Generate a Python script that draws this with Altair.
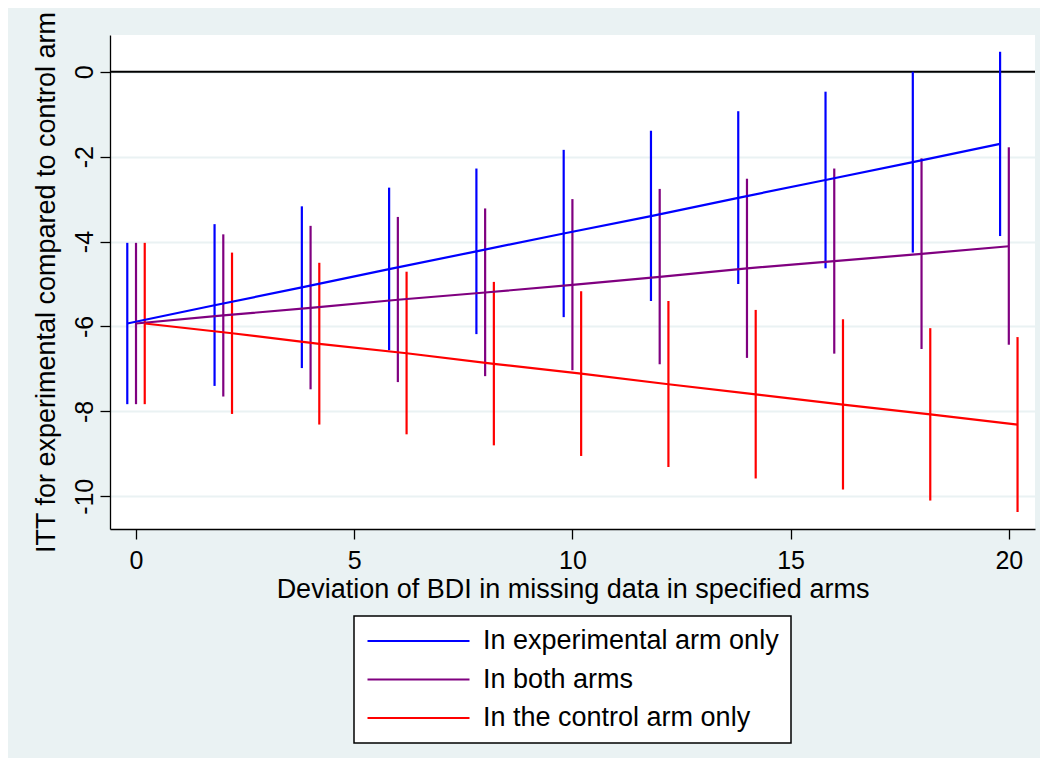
import altair as alt
import pandas as pd

deviation = [0, 2, 4, 6, 8, 10, 12, 14, 16, 18, 20]
groups = ["In experimental arm only", "In both arms", "In the control arm only"]
offsets = [-0.2, 0.0, 0.2]
colors = ["#0000FF", "#800080", "#FF0000"]

exp_est = [-5.93, -5.50, -5.08, -4.65, -4.23, -3.81, -3.40, -2.97, -2.55, -2.13, -1.70]
exp_lo = [-7.83, -7.40, -6.98, -6.56, -6.18, -5.78, -5.40, -5.00, -4.63, -4.26, -3.87]
exp_hi = [-4.03, -3.59, -3.17, -2.73, -2.28, -1.84, -1.39, -0.93, -0.47, 0.00, 0.47]

both_est = [-5.93, -5.74, -5.56, -5.37, -5.20, -5.02, -4.83, -4.63, -4.46, -4.29, -4.11]
both_lo = [-7.83, -7.65, -7.48, -7.31, -7.17, -7.03, -6.89, -6.74, -6.64, -6.53, -6.43]
both_hi = [-4.03, -3.83, -3.63, -3.42, -3.22, -3.00, -2.76, -2.52, -2.28, -2.04, -1.78]

ctrl_est = [-5.93, -6.16, -6.41, -6.63, -6.88, -7.11, -7.36, -7.60, -7.84, -8.07, -8.31]
ctrl_lo = [-7.83, -8.06, -8.31, -8.54, -8.80, -9.05, -9.31, -9.58, -9.84, -10.10, -10.37]
ctrl_hi = [-4.03, -4.26, -4.50, -4.71, -4.95, -5.17, -5.40, -5.61, -5.83, -6.04, -6.25]

y_ticks = [0, -2, -4, -6, -8, -10]
x_ticks = [0, 5, 10, 15, 20]

series = [(exp_est, exp_lo, exp_hi), (both_est, both_lo, both_hi), (ctrl_est, ctrl_lo, ctrl_hi)]
rows = []
for g, off, (est, lo, hi) in zip(groups, offsets, series):
    for i, d in enumerate(deviation):
        rows.append({"group": g, "dev": d, "xpos": d + off, "est": est[i], "lo": lo[i], "hi": hi[i]})
df = pd.DataFrame(rows)

FONT = "Liberation Sans"
xs = alt.Scale(domain=[-0.596, 20.6], nice=False, zero=False)
ys = alt.Scale(domain=[-10.77, 0.865], nice=False, zero=False)

x_axis = alt.Axis(values=x_ticks, grid=False, tickSize=10, labelPadding=9, labelFontSize=25,
                  titleFontSize=27, titlePadding=3, labelAngle=0,
                  title="Deviation of BDI in missing data in specified arms")
y_axis = alt.Axis(values=y_ticks, grid=True, tickSize=10, labelPadding=3, labelFontSize=25,
                  labelAngle=270, titleFontSize=27, titlePadding=12,
                  labelExpr="'' + datum.value",
                  title="ITT for experimental compared to control arm")

color = alt.Color("group:N", scale=alt.Scale(domain=groups, range=colors),
                  legend=alt.Legend(title=None, orient="none", legendX=244, legendY=581,
                                    direction="vertical", fillColor="white", strokeColor="black",
                                    padding=12, symbolType="stroke", symbolSize=10404,
                                    symbolStrokeWidth=2.2, labelFontSize=27, labelFont=FONT,
                                    labelOffset=12, clipHeight=26, rowPadding=11.5,
                                    labelLimit=500, labelColor="black"))

zero = alt.Chart(pd.DataFrame({"z": [0]})).mark_rule(color="black", strokeWidth=2).encode(
    y=alt.Y("z:Q", scale=ys, axis=y_axis)
)

bars = alt.Chart(df).mark_rule(strokeWidth=2.2).encode(
    x=alt.X("xpos:Q", scale=xs, axis=x_axis),
    y=alt.Y("lo:Q", scale=ys, axis=y_axis),
    y2="hi:Q",
    color=color,
)

lines = alt.Chart(df).mark_line(strokeWidth=2.2).encode(
    x=alt.X("xpos:Q", scale=xs, axis=x_axis),
    y=alt.Y("est:Q", scale=ys, axis=y_axis),
    color=color,
)

chart = alt.layer(zero, bars, lines).properties(
    width=925, height=494,
    background="#EAF2F3",
    padding={"left": 102, "top": 27, "right": 5, "bottom": 229},
    autosize=alt.AutoSizeParams(type="none"),
).configure_view(
    fill="white", strokeWidth=0
).configure_axis(
    domainColor="black", domainWidth=1.3, tickColor="black", tickWidth=1.3,
    labelFont=FONT, titleFont=FONT, labelColor="black", titleColor="black",
    titleFontWeight="normal", gridColor="#EAF2F3", gridWidth=2
).configure_legend(
    strokeWidth=1.5
)

chart.save("out.html", embed_options={"renderer": "svg", "actions": False})
